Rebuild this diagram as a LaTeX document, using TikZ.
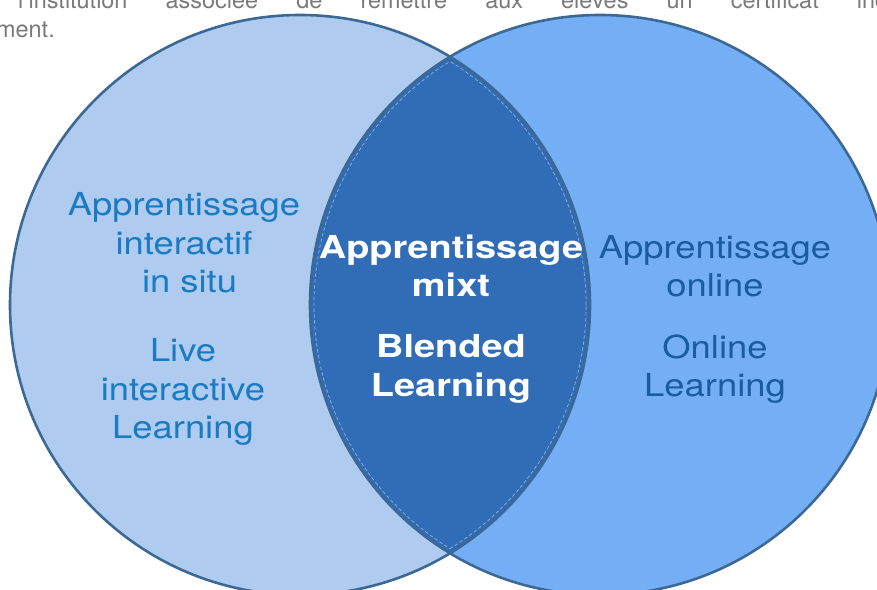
\documentclass[tikz,border=0pt]{standalone}
\usepackage{fontspec}
\setmainfont{TeX Gyre Heros}
\newfontfamily\widefont[FakeStretch=1.15]{TeX Gyre Heros}
\newfontfamily\widerbold[FakeStretch=1.2]{TeX Gyre Heros}
\definecolor{leftc}{HTML}{AFCBEF}
\definecolor{rightc}{HTML}{74AFF6}
\definecolor{lensc}{HTML}{316CB6}
\definecolor{edgec}{HTML}{3B6895}
\definecolor{lefttext}{HTML}{1A7BC3}
\definecolor{righttext}{HTML}{1B5C9E}
\definecolor{topgray}{HTML}{7A7A7A}
\tikzset{
  lbl/.style={align=center, inner sep=0pt, font=\widefont\fontsize{27}{32.7}\selectfont},
  lbltxt/.style={lbl, text=lefttext},
  rbltxt/.style={lbl, text=righttext},
  cbltxt/.style={lbl, text=white, font=\widerbold\bfseries\fontsize{27}{32.7}\selectfont},
  toptxt/.style={inner sep=0pt, text=topgray, font=\fontsize{20}{24}\selectfont},
  edge/.style={draw=edgec, line width=2.2pt},
}
\begin{document}
\begin{tikzpicture}[x=0.03cm,y=-0.03cm]
\useasboundingbox (0,0) rectangle (877,589);
\clip (0,0) rectangle (877,589);
\fill[white] (0,0) rectangle (877,589);
% top text (cut off)
\node[toptxt, anchor=base west] (t1) at (18,9)
  {\makebox[870\dimexpr0.03cm\relax][s]{l'institution associée de remettre aux élèves un certificat ind}};
\node[toptxt, anchor=base east] (t2) at (55,37) {ment.};
% circles
\coordinate (L) at (300,305);
\coordinate (R) at (600,305);
\fill[leftc] (L) circle [radius=8.7cm];
\fill[rightc] (R) circle [radius=8.7cm];
\begin{scope}
  \clip (L) circle [radius=8.7cm];
  \fill[lensc] (R) circle [radius=8.7cm];
\end{scope}
% inner light dashed line of the lens
\begin{scope}
  \clip (L) circle [radius=8.58cm];
  \draw[white, opacity=0.45, line width=0.6pt, dash pattern=on 3pt off 2pt] (R) circle [radius=8.58cm];
\end{scope}
\begin{scope}
  \clip (R) circle [radius=8.58cm];
  \draw[white, opacity=0.45, line width=0.6pt, dash pattern=on 3pt off 2pt] (L) circle [radius=8.58cm];
\end{scope}
\draw[edge] (L) circle [radius=8.7cm];
\draw[edge] (R) circle [radius=8.7cm];
% labels
\node[lbltxt] (l1) at (184,243) {Apprentissage\\interactif\\\hspace*{0.35em}in situ};
\node[lbltxt] (l2) at (183,392) {Live\\interactive\\Learning};
\node[cbltxt] (c1) at (451,266) {Apprentissage\\mixt};
\node[cbltxt] (c2) at (451,369) {Blended\\Learning};
\node[rbltxt] (r1) at (715,266) {Apprentissage\\online};
\node[rbltxt] (r2) at (715,369) {Online\\Learning};
\end{tikzpicture}
\end{document}
